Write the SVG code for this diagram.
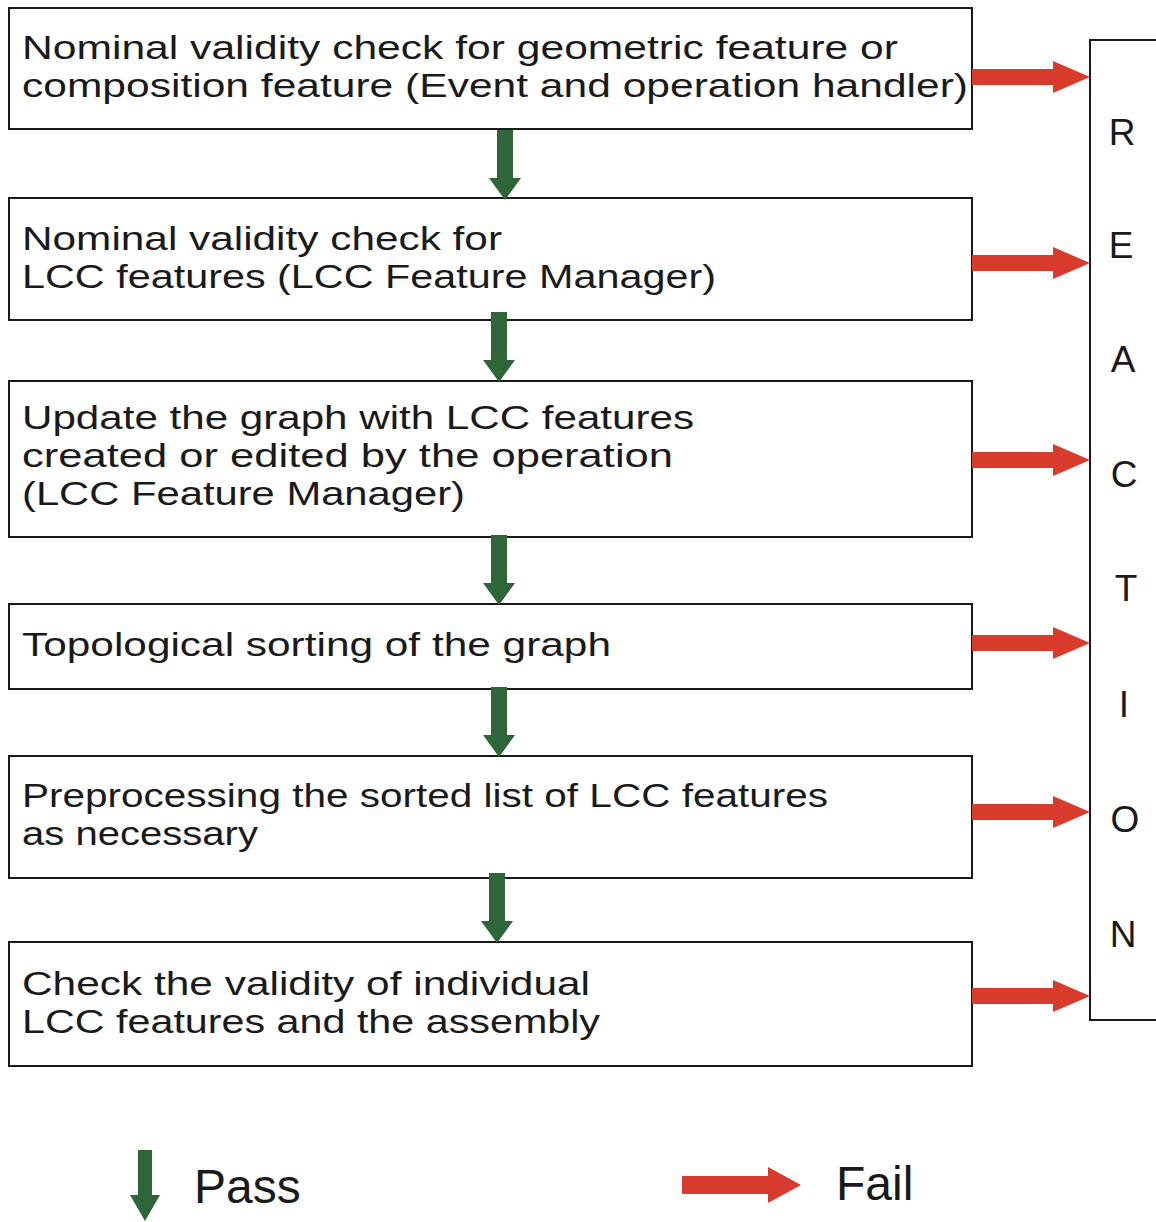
<svg xmlns="http://www.w3.org/2000/svg" width="1156" height="1222" viewBox="0 0 1156 1222">
  <style>
    .box { fill: #ffffff; stroke: #1a1a1a; stroke-width: 2; }
    .lbl { font-family: "Liberation Sans", Arial, sans-serif; font-size: 34px; fill: #1a1a1a; }
    .side { font-family: "Liberation Sans", Arial, sans-serif; font-size: 37px; fill: #1a1a1a; text-anchor: middle; }
    .leg { font-family: "Liberation Sans", Arial, sans-serif; font-size: 48px; fill: #1a1a1a; }
    .pass { fill: #2e6639; }
    .fail { fill: #d83a2c; }
  </style>
  <defs>
    <!-- downward pass arrow, tip at origin, 70px long -->
    <path id="down" d="M-8,-70 H8 V-22 H16 L0,0 L-16,-22 H-8 Z"/>
    <!-- rightward fail arrow, tip at origin, 118px long -->
    <path id="right" d="M-118,-8 H-37 V-16 L0,0 L-37,16 V8 H-118 Z"/>
  </defs>
  <rect width="1156" height="1222" fill="#ffffff"/>

  <!-- side box collecting failures -->
  <g id="reaction">
    <path class="box" d="M1160,40 H1090 V1020 H1160"/>
    <text class="side" x="1122" y="145">R</text>
    <text class="side" x="1121" y="258">E</text>
    <text class="side" x="1123" y="372">A</text>
    <text class="side" x="1124" y="487">C</text>
    <text class="side" x="1126" y="601">T</text>
    <text class="side" x="1124" y="717">I</text>
    <text class="side" x="1125" y="832">O</text>
    <text class="side" x="1123" y="947">N</text>
  </g>

  <g id="step1">
    <rect class="box" x="9" y="8" width="963" height="121"/>
    <text class="lbl"><tspan x="22" y="59" textLength="876" lengthAdjust="spacingAndGlyphs">Nominal validity check for geometric feature or</tspan><tspan x="22" y="97" textLength="946" lengthAdjust="spacingAndGlyphs">composition feature (Event and operation handler)</tspan></text>
  </g>

  <g id="step2">
    <rect class="box" x="9" y="198" width="963" height="122"/>
    <text class="lbl"><tspan x="22" y="250" textLength="480" lengthAdjust="spacingAndGlyphs">Nominal validity check for</tspan><tspan x="22" y="288" textLength="694" lengthAdjust="spacingAndGlyphs">LCC features (LCC Feature Manager)</tspan></text>
  </g>

  <g id="step3">
    <rect class="box" x="9" y="381" width="963" height="156"/>
    <text class="lbl"><tspan x="22" y="429" textLength="672" lengthAdjust="spacingAndGlyphs">Update the graph with LCC features</tspan><tspan x="22" y="467" textLength="651" lengthAdjust="spacingAndGlyphs">created or edited by the operation</tspan><tspan x="22" y="505" textLength="443" lengthAdjust="spacingAndGlyphs">(LCC Feature Manager)</tspan></text>
  </g>

  <g id="step4">
    <rect class="box" x="9" y="604" width="963" height="85"/>
    <text class="lbl" x="22" y="656" textLength="589" lengthAdjust="spacingAndGlyphs">Topological sorting of the graph</text>
  </g>

  <g id="step5">
    <rect class="box" x="9" y="756" width="963" height="122"/>
    <text class="lbl"><tspan x="22" y="807" textLength="806" lengthAdjust="spacingAndGlyphs">Preprocessing the sorted list of LCC features</tspan><tspan x="22" y="845" textLength="236" lengthAdjust="spacingAndGlyphs">as necessary</tspan></text>
  </g>

  <g id="step6">
    <rect class="box" x="9" y="942" width="963" height="124"/>
    <text class="lbl"><tspan x="22" y="995" textLength="568" lengthAdjust="spacingAndGlyphs">Check the validity of individual</tspan><tspan x="22" y="1033" textLength="578" lengthAdjust="spacingAndGlyphs">LCC features and the assembly</tspan></text>
  </g>

  <g id="connectors">
    <!-- pass: step to step -->
    <use href="#down" class="pass" transform="translate(505,200)"/>
    <use href="#down" class="pass" transform="translate(499,382)"/>
    <use href="#down" class="pass" transform="translate(499,605)"/>
    <use href="#down" class="pass" transform="translate(499,757)"/>
    <use href="#down" class="pass" transform="translate(497,943)"/>
    <!-- fail: step to reaction -->
    <use href="#right" class="fail" transform="translate(1090,77)"/>
    <use href="#right" class="fail" transform="translate(1090,263)"/>
    <use href="#right" class="fail" transform="translate(1090,460)"/>
    <use href="#right" class="fail" transform="translate(1090,643)"/>
    <use href="#right" class="fail" transform="translate(1090,812)"/>
    <use href="#right" class="fail" transform="translate(1090,996)"/>
  </g>

  <g id="legend">
    <path class="pass" d="M138,1150 H152 V1195 H160 L145,1221 L130,1195 H138 Z"/>
    <text class="leg" x="194" y="1203">Pass</text>
    <path class="fail" d="M682,1176 H768 V1167 L801,1185 L768,1203 V1194 H682 Z"/>
    <text class="leg" x="836" y="1200">Fail</text>
  </g>
</svg>
